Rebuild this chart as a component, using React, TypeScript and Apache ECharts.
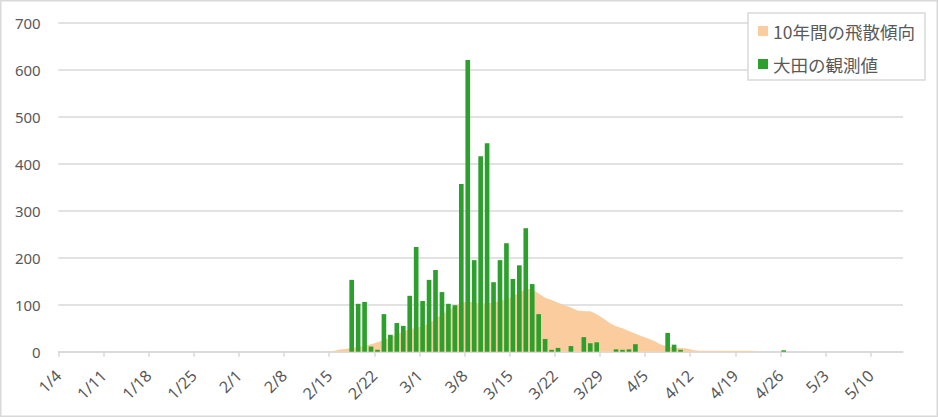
import React, { useEffect, useRef } from "react";
import * as echarts from "echarts";

// ---- data ----
const monthLengths = [31, 28, 31, 30, 31]; // Jan..May (non-leap year)
const firstMonth = 1;
const firstDay = 4;
const dayCount = 131; // 1/4 .. 5/14

const seriesTrendName = "10年間の飛散傾向";
const seriesObservedName = "大田の観測値";

// observed daily counts, starting 2/18 (day index 45)
const observedStartIndex = 45;
const observedValues = [
  153, 102, 106, 11, 4, 80, 36, 61, 55, 119, 223, 108, 153, 174, 127, 102, 99,
  357, 621, 195, 416, 444, 148, 195, 231, 155, 184, 263, 144, 80, 27, 4, 8, 0,
  12, 0, 31, 18, 20, 0, 0, 5, 4, 5, 16, 0, 0, 0, 0, 40, 15, 4, 0, 0, 0, 0, 0,
  0, 0, 0, 0, 0, 0, 0, 0, 0, 0, 3,
];

// 10-year trend, starting 2/14 (day index 41)
const trendStartIndex = 41;
const trendValues = [
  0, 1, 4, 6, 8, 10, 13, 16, 20, 25, 30, 37, 43, 48, 51, 54, 61, 70, 80, 88, 96,
  104, 107, 105, 102, 103, 105, 108, 112, 118, 126, 134, 133, 124, 115, 110, 104,
  99, 94, 88, 86, 86, 80, 71, 61, 54, 50, 44, 38, 33, 28, 22, 15, 11, 9, 8, 7, 3,
  2, 2, 2, 2, 2, 2, 2, 2, 2, 0,
];

const yMax = 700;
const yInterval = 100;
const labelEvery = 7;

// ---- derived ----
function buildDates(n: number): string[] {
  const out: string[] = [];
  let m = firstMonth;
  let d = firstDay;
  for (let i = 0; i < n; i++) {
    out.push(`${m}/${d}`);
    d++;
    if (d > monthLengths[m - 1]) {
      d = 1;
      m++;
    }
  }
  return out;
}

const boundaryDates = buildDates(dayCount + 1);
const categories = boundaryDates.slice(0, dayCount);

function fullSeries(start: number, vals: number[]): number[] {
  const arr: number[] = new Array(dayCount).fill(0);
  vals.forEach((v, k) => {
    if (start + k < dayCount) arr[start + k] = v;
  });
  return arr;
}

const observedData = fullSeries(observedStartIndex, observedValues);
const trendData = fullSeries(trendStartIndex, trendValues);

const GREEN = "#2ca02c";
const PEACH = "#fbcd9e";
const GRID = "#d9d9d9";
const TEXT = "#595959";

export default function App() {
  const ref = useRef<HTMLDivElement>(null);

  useEffect(() => {
    if (!ref.current) return;
    const chart = echarts.init(ref.current, null, { renderer: "svg" });
    const option: any = {
      animation: false,
      backgroundColor: "#ffffff",
      grid: { left: 58.3, right: 35, top: 23, bottom: 65.3, containLabel: false },
      graphic: [
        {
          type: "rect",
          z: 0,
          shape: { x: 0.75, y: 0.75, width: 936.5, height: 415.5 },
          style: { fill: "none", stroke: GRID, lineWidth: 1.5 },
          silent: true,
        },
        {
          type: "rect",
          z: 10,
          shape: { x: 748, y: 13, width: 177, height: 67 },
          style: { fill: "#ffffff", stroke: GRID, lineWidth: 1.5 },
          silent: true,
        },
      ],
      legend: {
        z: 20,
        orient: "vertical",
        left: 758,
        top: 21,
        padding: 0,
        itemWidth: 10,
        itemHeight: 10,
        itemGap: 13,
        data: [
          { name: seriesTrendName, icon: "rect" },
          { name: seriesObservedName, icon: "rect" },
        ],
        textStyle: {
          fontFamily: "Noto Sans CJK JP",
          fontSize: 17.5,
          lineHeight: 20,
          color: TEXT,
        },
      },
      xAxis: [
        {
          type: "category",
          data: categories,
          boundaryGap: true,
          position: "bottom",
          axisLine: { show: false },
          axisTick: { show: false },
          axisLabel: { show: false },
          splitLine: { show: false },
        },
        {
          type: "category",
          data: boundaryDates,
          boundaryGap: false,
          position: "bottom",
          axisLine: { show: true, lineStyle: { color: GRID, width: 1.5 } },
          axisTick: {
            show: true,
            length: 5,
            interval: (i: number) => i % labelEvery === 0,
            lineStyle: { color: GRID, width: 1.5 },
          },
          axisLabel: {
            interval: (i: number) => i % labelEvery === 0,
            rotate: 45,
            margin: 21,
            fontSize: 16,
            fontFamily: "Noto Sans",
            color: TEXT,
          },
          splitLine: { show: false },
        },
      ],
      yAxis: {
        type: "value",
        min: 0,
        max: yMax,
        interval: yInterval,
        axisLine: { show: false },
        axisTick: { show: false },
        axisLabel: {
          margin: 17.6,
          fontSize: 15,
          fontFamily: "Noto Sans",
          color: TEXT,
        },
        splitLine: { lineStyle: { color: GRID, width: 1.5 } },
      },
      series: [
        {
          name: seriesTrendName,
          type: "line",
          xAxisIndex: 0,
          data: trendData,
          symbol: "none",
          color: PEACH,
          itemStyle: { color: PEACH },
          lineStyle: { width: 0, color: PEACH },
          areaStyle: { color: PEACH, opacity: 1 },
          z: 1,
        },
        {
          name: seriesObservedName,
          type: "bar",
          xAxisIndex: 0,
          data: observedData,
          barCategoryGap: "28%",
          color: GREEN,
          itemStyle: { color: GREEN },
          z: 2,
        },
      ],
    };
    chart.setOption(option);
    return () => chart.dispose();
  }, []);

  return (
    <div
      ref={ref}
      style={{
        position: "fixed",
        left: 0,
        top: 0,
        width: 938,
        height: 417,
        background: "#ffffff",
      }}
    />
  );
}
